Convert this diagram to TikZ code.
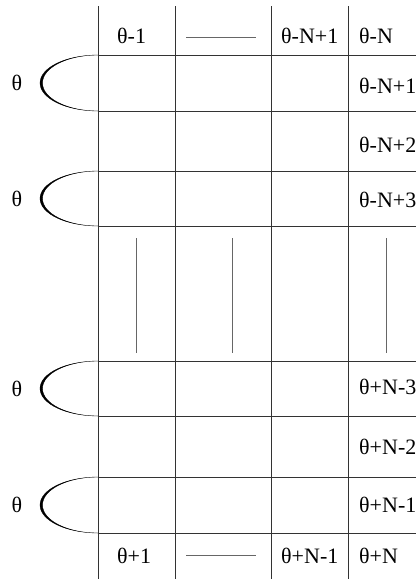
\documentclass[tikz,border=0pt]{standalone}
\usepackage{fontspec}
\setmainfont{Liberation Serif}
\begin{document}
\begin{tikzpicture}[x=1pt,y=-1pt,
  grid/.style={line width=0.8pt,draw=black!80},
  dotline/.style={line width=0.5pt,draw=black!60,dash pattern=on 0.4pt off 0.4pt},
  lbl/.style={font=\fontsize{22}{22}\selectfont,inner sep=0pt,anchor=west},
  theta/.style={font=\fontsize{22}{22}\selectfont,inner sep=0pt},
  brace/.style={fill=black,draw=black,line width=0.3pt}]
\useasboundingbox (0,0) rectangle (416,579);
% vertical grid lines
\foreach \x/\n in {98/a,175.5/b,271/c,348/d}{
  \coordinate (top\n) at (\x,6);
  \coordinate (bot\n) at (\x,579);
  \draw[grid] (top\n) -- (bot\n);
}
% horizontal grid lines
\foreach \y/\n in {55/1,111/2,171/3,226/4,361/5,416/6,477/7,533/8}{
  \coordinate (hl\n) at (98,\y);
  \coordinate (hr\n) at (416,\y);
  \draw[grid] (hl\n) -- (hr\n);
}
% header
\node[lbl] (h1) at (117,36) {θ-1};
\node[lbl] (h3) at (281,36) {θ-N+1};
\node[lbl] (h4) at (359,36) {θ-N};
\coordinate (hd1) at (186,37); \coordinate (hd2) at (255,37);
\draw[dotline] (hd1) -- (hd2);
% footer
\node[lbl] (f1) at (117,556) {θ+1};
\node[lbl] (f3) at (281,556) {θ+N-1};
\node[lbl] (f4) at (359,556) {θ+N};
\coordinate (fd1) at (186,555); \coordinate (fd2) at (255,555);
\draw[dotline] (fd1) -- (fd2);
% right column labels
\node[lbl] (r1) at (359,86) {θ-N+1};
\node[lbl] (r2) at (359,145) {θ-N+2};
\node[lbl] (r3) at (359,200) {θ-N+3};
\node[lbl] (r4) at (359,387) {θ+N-3};
\node[lbl] (r5) at (359,447) {θ+N-2};
\node[lbl] (r6) at (359,505) {θ+N-1};
% vertical dotted lines
\foreach \x/\n in {136.7/v1,232.7/v2,386.7/v4}{
  \coordinate (\n a) at (\x,238);
  \coordinate (\n b) at (\x,352);
  \draw[dotline] (\n a) -- (\n b);
}
% braces with theta
\foreach \yt/\yb/\n in {55/111/1,171/226/2,361/416/3,477/533/4}{
  \pgfmathsetmacro{\ym}{(\yt+\yb)/2}
  \pgfmathsetmacro{\ry}{(\yb-\yt)/2}
  \path[brace] (98,\yb) arc[start angle=90,end angle=270,x radius=58,y radius=\ry]
     arc[start angle=270,end angle=90,x radius=55.5,y radius=\ry] -- cycle;
  \node[theta] (t\n) at (17,\ym) {θ};
}
\end{tikzpicture}
\end{document}
